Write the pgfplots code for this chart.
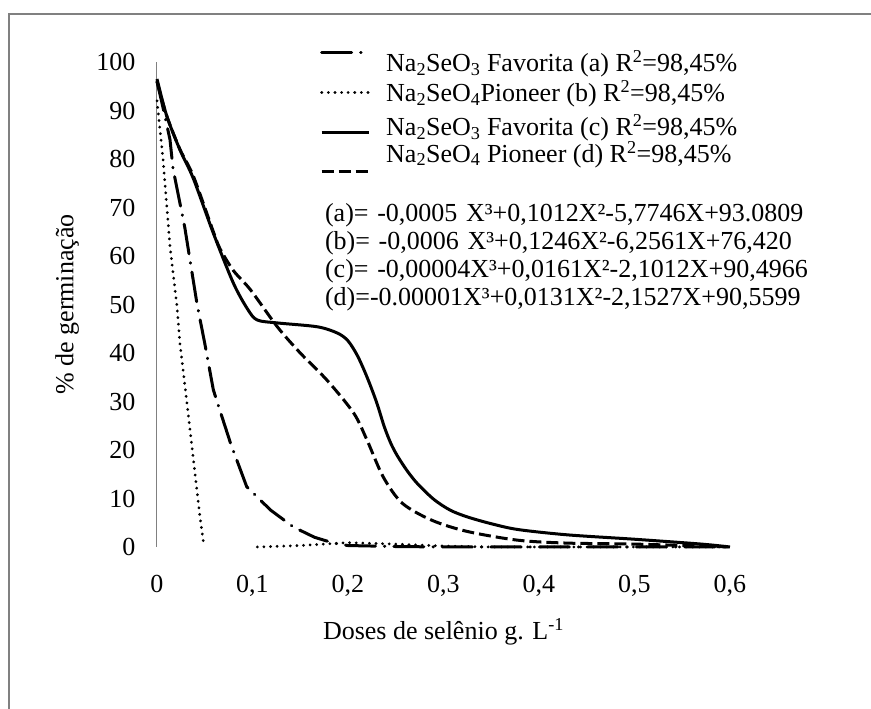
\documentclass[border=0pt]{standalone}
\usepackage{fontspec}
\setmainfont{Liberation Serif}
\usepackage{pgfplots}
\pgfplotsset{compat=1.18}

\newcommand{\chfont}{\fontsize{26pt}{31pt}\selectfont}
% legend text: fixed box height/depth, shifted against the sample
\newcommand{\legtxt}[2]{\raisebox{#1}[20pt][6pt]{#2}}

\begin{document}
\begin{tikzpicture}
\useasboundingbox (0,0) rectangle (871pt,709pt);
\draw[line width=2pt, gray] (9pt,-20pt) -- (9pt,695pt) -- (890pt,695pt);
\begin{axis}[
    at={(157pt,162pt)}, anchor=south west,
    scale only axis, width=573pt, height=485pt,
    xmin=0, xmax=0.6, ymin=0, ymax=100,
    clip=false,
    axis lines=left,
    axis line style={-},
    x axis line style={draw=none},
    y axis line style={gray, line width=1pt},
    major tick length=0pt,
    xtick={0,0.1,0.2,0.3,0.4,0.5,0.6},
    xticklabels={0,{0,1},{0,2},{0,3},{0,4},{0,5},{0,6}},
    ytick={0,10,20,30,40,50,60,70,80,90,100},
    /pgf/number format/assume math mode=true,
    tick label style={font=\chfont},
    yticklabel style={xshift=-18pt},
    xticklabel style={yshift=-25pt},
    label style={font=\chfont},
    xlabel={Doses de selênio g. L\textsuperscript{-1}},
    ylabel={\% de germinação},
    xlabel style={at={(axis description cs:0.5,-0.175)}, anchor=center},
    ylabel style={at={(axis description cs:-0.157,0.5)}, anchor=center},
    legend image code/.code={\draw[#1] (0pt,0pt) -- (47pt,0pt);},
    legend cell align=left,
    legend style={draw=none, fill=none, font=\chfont, inner sep=0pt,
        column sep=16pt, row sep=18.3pt, nodes={inner sep=0pt},
        at={(axis description cs:0.2845,1.042)}, anchor=north west},
]

% (a) Na2SeO3 Favorita
\addplot[black, line width=3pt, dash pattern=on 30pt off 9pt on 0.5pt off 9pt, line cap=round] coordinates {
 (0,96) (0.007,90) (0.0136,84) (0.0168,78) (0.029,66) (0.042,50) (0.05,42)
 (0.059,32.4) (0.064,29.3) (0.077,21.4) (0.094,12.4) (0.119,7.6) (0.143,4.1)
 (0.165,2.0) (0.185,0.8) (0.2,0.3) (0.25,0.1) (0.3,0) (0.6,0)
};
\addlegendentry{\legtxt{-10pt}{Na\textsubscript{2}SeO\textsubscript{3} Favorita (a) R\textsuperscript{2}=98,45\%}}

% (b) Na2SeO4 Pioneer
\addplot[black, line width=3pt, dash pattern=on 0.1pt off 6.5pt, line cap=round, unbounded coords=jump] coordinates {
 (0,92) (0.0063,80) (0.0136,62) (0.021,49.5) (0.024,42) (0.031,30.3) (0.037,20)
 (0.045,6.2) (0.049,0.5) (0.075,nan)
 (0.105,0) (0.15,0.3) (0.2,0.9) (0.25,0.6) (0.3,0.2) (0.35,0) (0.6,0)
};
\addlegendentry{\legtxt{0pt}{Na\textsubscript{2}SeO\textsubscript{4}Pioneer (b) R\textsuperscript{2}=98,45\%}}

% (c) Na2SeO3 Favorita
\addplot[black, line width=3pt, smooth] coordinates {
 (0,96.5) (0.01,89) (0.024,81.9) (0.038,76) (0.059,64.7) (0.08,54.4) (0.095,49)
 (0.105,46.8) (0.126,46.2) (0.168,45.4) (0.189,44.1) (0.2,42.5) (0.21,39.4)
 (0.22,35) (0.23,29.8) (0.238,24.8) (0.245,21.3) (0.252,18.7) (0.262,15.7)
 (0.273,13) (0.29,9.8) (0.307,7.6) (0.325,6.2) (0.35,4.8) (0.378,3.6)
 (0.43,2.5) (0.5,1.6) (0.57,0.6) (0.6,0)
};
\addlegendentry{\legtxt{6pt}{Na\textsubscript{2}SeO\textsubscript{3} Favorita (c) R\textsuperscript{2}=98,45\%}}

% (d) Na2SeO4 Pioneer
\addplot[black, line width=3pt, dash pattern=on 12pt off 5pt, smooth] coordinates {
 (0,96) (0.01,89) (0.024,82) (0.038,76.5) (0.059,65) (0.066,61.5) (0.08,57)
 (0.098,53) (0.126,45.4) (0.15,40) (0.178,34.4) (0.206,27.6) (0.22,22)
 (0.237,14.4) (0.257,9) (0.288,5.5) (0.325,3.2) (0.378,1.4) (0.43,0.8) (0.5,0.6) (0.6,0)
};
\addlegendentry{\legtxt{19pt}{Na\textsubscript{2}SeO\textsubscript{4} Pioneer (d) R\textsuperscript{2}=98,45\%}}

\node[font=\chfont, anchor=north west, inner sep=0pt, align=left,
      text width=560pt, execute at begin node={\setlength{\baselineskip}{28pt}}]
  at (axis description cs:0.293,0.709)
  {(a)= -0,0005 X³+0,1012X²-5,7746X+93.0809\\
   (b)= -0,0006 X³+0,1246X²-6,2561X+76,420\\
   (c)= -0,00004X³+0,0161X²-2,1012X+90,4966\\
   (d)=-0.00001X³+0,0131X²-2,1527X+90,5599};
\end{axis}
\end{tikzpicture}
\end{document}
